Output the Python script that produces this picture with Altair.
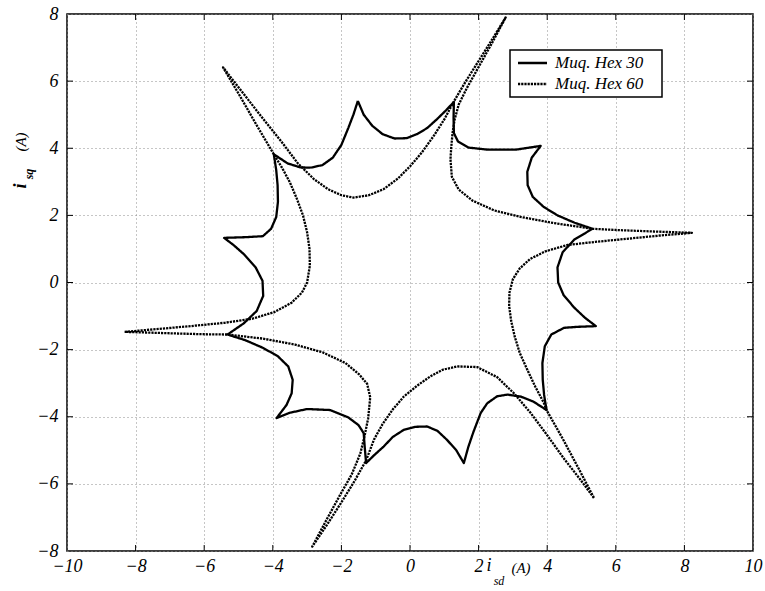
import altair as alt
import pandas as pd

# ---------------- data ----------------
x_ticks = [-10, -8, -6, -4, -2, 0, 2, 4, 6, 8, 10]
y_ticks = [-8, -6, -4, -2, 0, 2, 4, 6, 8]
series_names = ["Muq. Hex 30", "Muq. Hex 60"]
series_dash = [[1, 0], [2.2, 1.0]]

# Muq. Hex 30 (solid)
hex30_x = [-1.52, -1.35, -1.1, -0.8, -0.45, -0.1, 0.2, 0.5, 0.79, 1.05, 1.28,
           1.27, 1.28, 1.4, 1.7, 2.25, 3.1, 3.81,
           3.55, 3.42, 3.43, 3.58, 3.9, 4.3, 4.8, 5.32,
           4.79, 4.45, 4.3, 4.32, 4.48, 4.79, 5.1, 5.42,
           4.9, 4.49, 4.12, 3.93, 3.86, 3.87, 3.91, 3.98,
           3.6, 3.23, 2.84, 2.54, 2.25, 2.06, 1.85, 1.7, 1.57,
           1.35, 1.08, 0.8, 0.5, 0.15, -0.18, -0.5, -0.77, -1.05, -1.28,
           -1.32, -1.35, -1.5, -1.8, -2.33, -3.0, -3.5, -3.89,
           -3.6, -3.45, -3.42, -3.55, -3.85, -4.28, -4.8, -5.32,
           -4.85, -4.47, -4.28, -4.3, -4.5, -4.85, -5.15, -5.42,
           -4.8, -4.29, -4.05, -3.9, -3.85, -3.86, -3.9, -3.97,
           -3.57, -3.2, -2.9, -2.55, -2.25, -2.0, -1.8, -1.65, -1.52]
hex30_y = [5.41, 5.0, 4.67, 4.42, 4.29, 4.3, 4.42, 4.6, 4.87, 5.13, 5.38,
           4.9, 4.45, 4.2, 4.02, 3.96, 3.96, 4.07,
           3.72, 3.3, 2.9, 2.55, 2.25, 2.0, 1.78, 1.6,
           1.28, 0.9, 0.45, 0.0, -0.38, -0.75, -1.05, -1.3,
           -1.32, -1.35, -1.55, -1.9, -2.4, -2.9, -3.35, -3.8,
           -3.55, -3.4, -3.34, -3.39, -3.6, -3.89, -4.45, -4.9, -5.38,
           -5.0, -4.69, -4.42, -4.29, -4.3, -4.39, -4.6, -4.89, -5.15, -5.38,
           -4.9, -4.49, -4.25, -4.02, -3.8, -3.77, -3.88, -4.04,
           -3.65, -3.3, -2.9, -2.5, -2.2, -1.95, -1.72, -1.55,
           -1.22, -0.85, -0.4, 0.05, 0.45, 0.85, 1.12, 1.33,
           1.35, 1.38, 1.6, 1.95, 2.4, 2.9, 3.35, 3.82,
           3.55, 3.43, 3.42, 3.5, 3.72, 4.1, 4.6, 5.0, 5.41]

# Muq. Hex 60 (dotted)
hex60_x = [-8.32, -7.4, -6.4, -5.4, -4.6, -3.95, -3.45, -3.15, -3.0, -2.92, -2.93, -3.0, -3.12, -3.3, -3.5, -3.72, -3.97,
           -4.45, -4.96, -5.45,
           -4.85, -4.3, -3.75, -3.27, -2.8, -2.39, -2.0, -1.65, -1.2, -0.77, -0.35, 0.01, 0.35, 0.7, 1.0, 1.26, 1.6, 2.0, 2.4, 2.79,
           2.4, 2.0, 1.65, 1.42, 1.3, 1.24, 1.2, 1.18, 1.22, 1.42, 1.82, 2.45, 3.25, 4.2, 5.32,
           6.1, 7.1, 8.22,
           7.3, 6.4, 5.4, 4.6, 3.95, 3.5, 3.2, 3.0, 2.9, 2.89, 2.95, 3.05, 3.2, 3.42, 3.65, 3.9, 3.98,
           4.45, 4.92, 5.37,
           4.95, 4.49, 4.0, 3.52, 3.03, 2.54, 1.96, 1.37, 0.95, 0.59, 0.2, -0.18, -0.5, -0.8, -1.05, -1.28, -1.62, -2.0, -2.42, -2.85,
           -2.45, -2.05, -1.7, -1.45, -1.33, -1.22, -1.16, -1.25, -1.48, -1.88, -2.55, -3.35, -4.3, -5.32,
           -6.1, -7.1, -8.32]
hex60_y = [-1.47, -1.39, -1.3, -1.2, -1.08, -0.88, -0.6, -0.3, 0.0, 0.5, 1.0, 1.5, 2.0, 2.5, 2.98, 3.4, 3.82,
           4.65, 5.56, 6.41,
           5.62, 4.9, 4.2, 3.55, 3.08, 2.78, 2.6, 2.53, 2.6, 2.78, 3.1, 3.47, 3.88, 4.38, 4.86, 5.36, 5.95, 6.6, 7.25, 7.9,
           7.15, 6.42, 5.78, 5.3, 4.85, 4.45, 4.0, 3.67, 3.15, 2.77, 2.44, 2.15, 1.95, 1.77, 1.6,
           1.56, 1.52, 1.48,
           1.4, 1.31, 1.21, 1.12, 0.93, 0.7, 0.42, 0.1, -0.3, -0.7, -1.15, -1.6, -2.1, -2.6, -3.1, -3.58, -3.8,
           -4.65, -5.55, -6.43,
           -5.85, -5.25, -4.55, -3.89, -3.3, -2.82, -2.52, -2.5, -2.6, -2.8, -3.08, -3.4, -3.78, -4.22, -4.68, -5.3, -5.92, -6.55, -7.22, -7.87,
           -7.1, -6.35, -5.72, -5.1, -4.6, -4.05, -3.42, -3.02, -2.74, -2.4, -2.08, -1.85, -1.67, -1.55,
           -1.54, -1.51, -1.47]

rows = []
for name, xs_, ys_ in [(series_names[0], hex30_x, hex30_y), (series_names[1], hex60_x, hex60_y)]:
    for k, (a, b) in enumerate(zip(xs_, ys_)):
        rows.append({"series": name, "k": k, "isd": a, "isq": b})
df = pd.DataFrame(rows)

# ---------------- layout ----------------
W, H = 686, 537
PAD_L, PAD_T = 67, 14
FONT = "Liberation Serif"
LW = 2.3

xs = alt.Scale(domain=[-10, 10], nice=False, zero=False)
ys = alt.Scale(domain=[-8, 8], nice=False, zero=False)

x_axis = alt.Axis(values=x_ticks, title=None, grid=True, gridDash=[1, 3], gridColor="#8c8c8c",
                  gridWidth=1, tickSize=0, domain=False, labelFont=FONT, labelFontStyle="italic",
                  labelFontSize=18, labelColor="black", labelPadding=6, format="d",
                  labelFlush=False, labelOverlap=False)
y_axis = alt.Axis(values=y_ticks, title=None, grid=True, gridDash=[1, 3], gridColor="#8c8c8c",
                  gridWidth=1, tickSize=0, domain=False, labelFont=FONT, labelFontStyle="italic",
                  labelFontSize=18, labelColor="black", labelPadding=9, format="d",
                  labelFlush=False, labelOverlap=False)

lines = alt.Chart(df).mark_line(color="black", strokeWidth=LW, strokeJoin="round").encode(
    x=alt.X("isd:Q", scale=xs, axis=x_axis),
    y=alt.Y("isq:Q", scale=ys, axis=y_axis),
    order=alt.Order("k:Q"),
    strokeDash=alt.StrokeDash("series:N",
                              scale=alt.Scale(domain=series_names, range=series_dash),
                              legend=None),
)

# inward ticks on all four sides
xt = pd.DataFrame({"t": x_ticks[1:-1]})
yt = pd.DataFrame({"t": y_ticks[1:-1]})
tick_bottom = alt.Chart(xt).mark_rule(color="black", strokeWidth=1).encode(
    x=alt.X("t:Q", scale=xs, axis=x_axis), y=alt.value(H), y2=alt.value(H - 6))
tick_top = alt.Chart(xt).mark_rule(color="black", strokeWidth=1).encode(
    x=alt.X("t:Q", scale=xs, axis=x_axis), y=alt.value(0), y2=alt.value(6))
tick_left = alt.Chart(yt).mark_rule(color="black", strokeWidth=1).encode(
    y=alt.Y("t:Q", scale=ys, axis=y_axis), x=alt.value(0), x2=alt.value(6))
tick_right = alt.Chart(yt).mark_rule(color="black", strokeWidth=1).encode(
    y=alt.Y("t:Q", scale=ys, axis=y_axis), x=alt.value(W), x2=alt.value(W - 6))

one = alt.Data(values=[{}])


def txt(s, x, y, size, angle=0, weight="normal", align="center"):
    return alt.Chart(one).mark_text(text=s, font=FONT, fontStyle="italic", fontSize=size,
                                    fontWeight=weight, angle=angle, color="black",
                                    align=align, baseline="middle").encode(
        x=alt.value(x), y=alt.value(y))


# legend box (plot-relative pixels)
LX0, LX1, LY0, LY1 = 510 - PAD_L, 662 - PAD_L, 50 - PAD_T, 97 - PAD_T
legend_box = alt.Chart(one).mark_rect(fill="white", stroke="black", strokeWidth=1.5).encode(
    x=alt.value(LX0), x2=alt.value(LX1), y=alt.value(LY0), y2=alt.value(LY1))
legend_parts = [legend_box]
for i, name in enumerate(series_names):
    ry = 63 - PAD_T + i * 21
    legend_parts.append(
        alt.Chart(one).mark_rule(color="black", strokeWidth=LW, strokeDash=series_dash[i]).encode(
            x=alt.value(518 - PAD_L), x2=alt.value(547 - PAD_L), y=alt.value(ry)))
    legend_parts.append(txt(name, 555 - PAD_L, ry, 17, align="left"))

# axis titles with subscripts (plot-relative pixel offsets)
titles = [
    txt("i", 489 - PAD_L, 566 - PAD_T, 18),
    txt("sd", 499 - PAD_L, 581 - PAD_T, 12),
    txt("(A)", 521 - PAD_L, 568 - PAD_T, 15),
    txt("i", 21 - PAD_L, 186 - PAD_T, 18, angle=270, weight="bold"),
    txt("sq", 29 - PAD_L, 174 - PAD_T, 12, angle=270, weight="bold"),
    txt("(A)", 21 - PAD_L, 142 - PAD_T, 15, angle=270),
]

chart = alt.layer(lines, tick_bottom, tick_top, tick_left, tick_right,
                  *legend_parts, *titles).properties(
    width=W, height=H,
    autosize=alt.AutoSizeParams(type="none"),
    padding={"left": PAD_L, "top": PAD_T, "right": 765 - PAD_L - W, "bottom": 591 - PAD_T - H},
).configure_view(stroke="black", strokeWidth=1.5)

chart.save("out.html", embed_options={"renderer": "svg", "actions": False})
